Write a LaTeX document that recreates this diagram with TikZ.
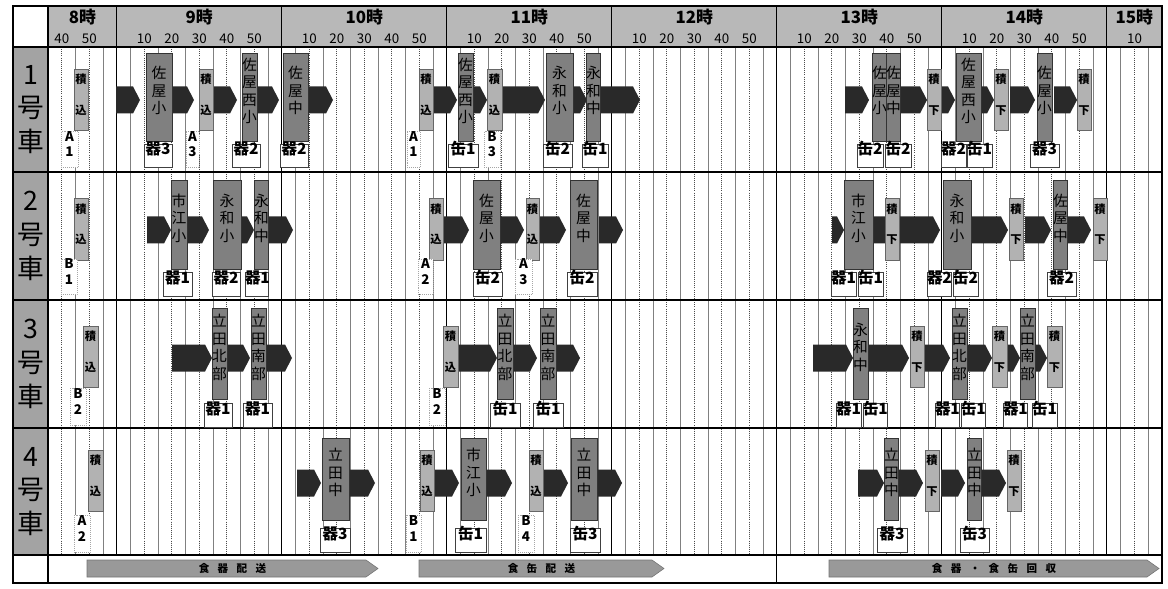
\documentclass[tikz,border=0pt]{standalone}
\usepackage{fontspec}
\setmainfont{Noto Sans CJK JP}
\usepackage{tikz}
\usetikzlibrary{fit}
\definecolor{headgray}{gray}{0.72}
\definecolor{sidegray}{gray}{0.64}
\definecolor{visitgray}{gray}{0.50}
\definecolor{loadgray}{gray}{0.70}
\definecolor{drivegray}{gray}{0.16}
\definecolor{bandgray}{gray}{0.60}

\newcommand{\setrow}[9]{\def\stT{#1}\def\stB{#2}\def\ldT{#3}\def\ldB{#4}\def\arY{#5}\def\cgT{#6}\def\cgB{#7}\def\trT{#8}\def\trB{#9}}
\newcommand{\visit}[4]{\node[visitbox, fit={(#2,\stT) (#3,\stB)}] (#1) {#4};}
\newcommand{\loading}[4]{\node[loadbox, fit={(#2,\ldT) (#3,\ldB)}] (#1) {#4};}
\newcommand{\cargo}[4]{\node[cargobox, fit={(#2,\cgT) (#3,\cgB)}] (#1) {#4};}
\newcommand{\trip}[4]{\node[tripbox, fit={(#2,\trT) (#3,\trB)}] (#1) {#4};}
\newcommand{\drive}[2]{\fill[drivearrow] (#1,{\arY-13.5}) -- ({#2-7},{\arY-13.5}) -- (#2,\arY) -- ({#2-7},{\arY+13.5}) -- (#1,{\arY+13.5}) -- cycle;}
\newcommand{\band}[4]{\filldraw[bandarrow] (#2,560) -- ({#3-12},560) -- (#3,568.5) -- ({#3-12},577) -- (#2,577) -- cycle;
  \node[bandtext] (#1) at ({(#2+#3)/2},568.5) {#4};}

\begin{document}
\begin{tikzpicture}[x=0.025cm, y=-0.025cm,
  visitbox/.style={draw=black!80, line width=0.7pt, fill=visitgray, inner sep=0pt, align=center, font=\fontsize{10.5}{12.5}\selectfont},
  loadbox/.style={draw=black!60, line width=0.5pt, fill=loadgray, inner sep=0pt, align=center, font=\fontsize{8}{22}\selectfont\bfseries},
  cargobox/.style={draw=black!75, line width=0.6pt, fill=white, inner sep=0pt, align=center, font=\fontsize{11}{12}\selectfont\bfseries},
  tripbox/.style={draw=black!35, densely dotted, fill=white, inner sep=0pt, align=center, font=\fontsize{9.5}{11}\selectfont\bfseries},
  drivearrow/.style={fill=drivegray},
  bandarrow/.style={fill=bandgray, draw=black!55, line width=0.4pt},
  bandtext/.style={font=\fontsize{7.5}{8}\selectfont\bfseries},
  carlabel/.style={align=center, font=\fontsize{19}{24}\selectfont},
  hourlabel/.style={font=\fontsize{12}{13}\selectfont\bfseries},
  minlabel/.style={font=\fontsize{9.5}{10}\selectfont},
  fivemin/.style={black!50, line width=0.35pt},
  tenmin/.style={black!70, line width=0.5pt, densely dotted},
  hourline/.style={black, line width=0.9pt}]
  \useasboundingbox (0,0) rectangle (1168,589);
  \fill[headgray] (48,6) rectangle (1161.75,47);
  \fill[sidegray] (13,47) rectangle (48,555);

  \foreach \t in {10,20,...,400} \draw[fivemin] ({48+2.75*\t},47) -- ({48+2.75*\t},555);
  \foreach \t in {5,15,...,395} \draw[tenmin] ({48+2.75*\t},47) -- ({48+2.75*\t},555);
  \foreach \t in {25,85,...,385} \draw[hourline] ({48+2.75*\t},6) -- ({48+2.75*\t},555);
  \foreach \y in {47,172,300,428,555} \draw[line width=0.9pt] (13,\y) -- (1161.75,\y);
  \draw[line width=0.9pt] (48,6) -- (48,583);
  \draw[line width=0.9pt] (776.75,555) -- (776.75,583);
  \draw[line width=1.1pt] (13,6) rectangle (1161.75,583);

  \node[hourlabel] (h8) at (82.4,17) {8時};
  \foreach \h in {9,...,14} \node[hourlabel] (h\h) at ({199.25+165*(\h-9)},17) {{\h}時};
  \node[hourlabel] (h15) at (1134.25,17) {15時};
  \node[minlabel] (m8-40) at (61.75,39) {40};
  \node[minlabel] (m8-50) at (89.25,39) {50};
  \foreach \h in {9,...,14}{
    \foreach \m in {10,20,...,50}
      \node[minlabel] (m\h-\m) at ({48+2.75*((\h-8)*60+\m-35)},39) {\m};
  }
  \node[minlabel] (m15-10) at (1134.5,39) {10};

  \node[carlabel] (car1) at (30.5,109.5) {1\\号\\車};
  \node[carlabel] (car2) at (30.5,236) {2\\号\\車};
  \node[carlabel] (car3) at (30.5,364) {3\\号\\車};
  \node[carlabel] (car4) at (30.5,491.5) {4\\号\\車};

  % 1号車
  \setrow{53}{141}{69}{130}{100}{144}{167}{131}{167}
  \drive{116}{140} \drive{172}{194} \drive{213}{237} \drive{257}{279}
  \drive{308}{333} \drive{433}{457} \drive{473}{487} \drive{502}{545}
  \drive{573}{587} \drive{600}{640} \drive{845}{869} \drive{900}{927}
  \drive{940}{955} \drive{981}{994} \drive{1010}{1035} \drive{1054}{1077}
  \loading{r1l1}{74}{88}{積\\込} \loading{r1l2}{199}{213}{積\\込}
  \loading{r1l3}{419}{433}{積\\込} \loading{r1l4}{487}{502}{積\\込}
  \loading{r1l5}{927}{941}{積\\下} \loading{r1l6}{994}{1008}{積\\下}
  \loading{r1l7}{1077}{1091}{積\\下}
  \visit{r1s1}{146}{172}{佐\\屋\\小} \visit{r1s2}{242}{257}{佐\\屋\\西\\小}
  \visit{r1s3}{283}{308}{佐\\屋\\中} \visit{r1s4}{458}{473}{佐\\屋\\西\\小}
  \visit{r1s5}{546}{573}{永\\和\\小} \visit{r1s6}{586}{600}{永\\和\\中}
  \visit{r1s7}{872}{886}{佐\\屋\\小} \visit{r1s8}{886}{900}{佐\\屋\\中}
  \visit{r1s9}{956}{981}{佐\\屋\\西\\小} \visit{r1s10}{1037}{1052}{佐\\屋\\小}
  \cargo{r1c1}{144}{172}{器3} \cargo{r1c2}{232}{260}{器2} \cargo{r1c3}{280}{308}{器2}
  \cargo{r1c4}{448}{478}{缶1} \cargo{r1c5}{543}{572}{缶2} \cargo{r1c6}{582}{608}{缶1}
  \cargo{r1c7}{857}{883}{缶2} \cargo{r1c8}{885}{911}{缶2} \cargo{r1c9}{941}{966}{器2}
  \cargo{r1c10}{967}{992}{缶1} \cargo{r1c11}{1030}{1059}{器3}
  \trip{r1t1}{61}{78}{A\\1} \trip{r1t2}{186}{199}{A\\3}
  \trip{r1t3}{407}{420}{A\\1} \trip{r1t4}{484}{500}{B\\3}

  % 2号車
  \setrow{180}{269}{198}{260}{230}{272}{296}{259}{294}
  \drive{147}{171} \drive{187}{209} \drive{241}{254} \drive{268}{293}
  \drive{443}{469} \drive{500}{524} \drive{539}{566} \drive{599}{623}
  \drive{832}{844} \drive{873}{940} \drive{971}{1008} \drive{1025}{1051}
  \drive{1067}{1091}
  \loading{r2l1}{74}{88}{積\\込} \loading{r2l2}{429}{443}{積\\込}
  \loading{r2l3}{526}{539}{積\\込} \loading{r2l4}{885}{899}{積\\下}
  \loading{r2l5}{1009}{1023}{積\\下} \loading{r2l6}{1093}{1107}{積\\下}
  \visit{r2s1}{171}{187}{市\\江\\小} \visit{r2s2}{213}{241}{永\\和\\小}
  \visit{r2s3}{254}{268}{永\\和\\中} \visit{r2s4}{473}{500}{佐\\屋\\小}
  \visit{r2s5}{570}{597}{佐\\屋\\中} \visit{r2s6}{844}{873}{市\\江\\小}
  \visit{r2s7}{943}{971}{永\\和\\小} \visit{r2s8}{1053}{1067}{佐\\屋\\中}
  \cargo{r2c1}{163}{192}{器1} \cargo{r2c2}{212}{240}{器2} \cargo{r2c3}{245}{268}{器1}
  \cargo{r2c4}{473}{502}{缶2} \cargo{r2c5}{567}{597}{缶2} \cargo{r2c6}{831}{856}{器1}
  \cargo{r2c7}{858}{883}{缶1} \cargo{r2c8}{927}{951}{器2} \cargo{r2c9}{953}{978}{缶2}
  \cargo{r2c10}{1047}{1076}{器2}
  \trip{r2t1}{61}{77}{B\\1} \trip{r2t2}{418}{433}{A\\2} \trip{r2t3}{515}{532}{A\\3}

  % 3号車
  \setrow{308}{399}{326}{387}{358}{403}{427}{388}{425}
  \drive{172}{212} \drive{227}{250} \drive{266}{292} \drive{457}{497}
  \drive{513}{537} \drive{556}{580} \drive{813}{853} \drive{868}{909}
  \drive{925}{950} \drive{968}{992} \drive{1008}{1020} \drive{1035}{1047}
  \loading{r3l1}{83}{98}{積\\込} \loading{r3l2}{443}{458}{積\\込}
  \loading{r3l3}{910}{924}{積\\下} \loading{r3l4}{992}{1007}{積\\下}
  \loading{r3l5}{1047}{1062}{積\\下}
  \visit{r3s1}{212}{227}{立\\田\\北\\部} \visit{r3s2}{251}{266}{立\\田\\南\\部}
  \visit{r3s3}{497}{513}{立\\田\\北\\部} \visit{r3s4}{540}{556}{立\\田\\南\\部}
  \visit{r3s5}{853}{868}{永\\和\\中} \visit{r3s6}{952}{967}{立\\田\\北\\部}
  \visit{r3s7}{1020}{1035}{立\\田\\南\\部}
  \cargo{r3c1}{204}{232}{器1} \cargo{r3c2}{243}{272}{器1} \cargo{r3c3}{490}{520}{缶1}
  \cargo{r3c4}{533}{563}{缶1} \cargo{r3c5}{836}{861}{器1} \cargo{r3c6}{863}{887}{缶1}
  \cargo{r3c7}{935}{959}{器1} \cargo{r3c8}{961}{985}{缶1} \cargo{r3c9}{1003}{1027}{器1}
  \cargo{r3c10}{1032}{1057}{缶1}
  \trip{r3t1}{70}{86}{B\\2} \trip{r3t2}{429}{445}{B\\2}

  % 4号車
  \setrow{438}{520}{450}{511}{483}{528}{552}{515}{552}
  \drive{297}{321} \drive{349}{375} \drive{434}{459} \drive{486}{512}
  \drive{543}{568} \drive{597}{622} \drive{858}{884} \drive{898}{923}
  \drive{941}{965} \drive{981}{1006}
  \loading{r4l1}{88}{103}{積\\込} \loading{r4l2}{420}{434}{積\\込}
  \loading{r4l3}{529}{543}{積\\込} \loading{r4l4}{925}{939}{積\\下}
  \loading{r4l5}{1007}{1021}{積\\下}
  \visit{r4s1}{322}{349}{立\\田\\中} \visit{r4s2}{461}{486}{市\\江\\小}
  \visit{r4s3}{571}{597}{立\\田\\中} \visit{r4s4}{884}{898}{立\\田\\中}
  \visit{r4s5}{967}{981}{立\\田\\中}
  \cargo{r4c1}{320}{350}{器3} \cargo{r4c2}{455}{486}{缶1} \cargo{r4c3}{570}{600}{缶3}
  \cargo{r4c4}{877}{907}{器3} \cargo{r4c5}{960}{989}{缶3}
  \trip{r4t1}{74}{90}{A\\2} \trip{r4t2}{406}{421}{B\\1} \trip{r4t3}{518}{534}{B\\4}

  \band{b1}{87}{378}{食\hspace{0.8em}器\hspace{0.8em}配\hspace{0.8em}送}
  \band{b2}{419}{664}{食\hspace{0.8em}缶\hspace{0.8em}配\hspace{0.8em}送}
  \band{b3}{829}{1159}{食\hspace{0.8em}器\hspace{0.8em}・\hspace{0.8em}食\hspace{0.8em}缶\hspace{0.8em}回\hspace{0.8em}収}
\end{tikzpicture}
\end{document}
